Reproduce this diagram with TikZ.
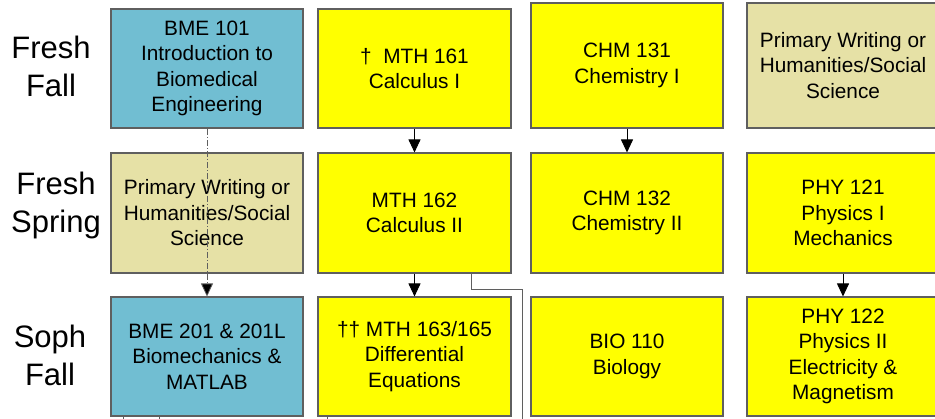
\documentclass[tikz,border=0pt]{standalone}
\usepackage{fontspec}
\setmainfont{Liberation Sans}
\usetikzlibrary{arrows.meta,calc}
\definecolor{bmeblue}{RGB}{113,190,210}
\definecolor{khaki}{RGB}{230,225,166}
\definecolor{ylw}{RGB}{255,255,0}
\definecolor{edge}{RGB}{95,95,95}
\tikzset{
  course/.style={draw=edge, line width=1.1pt, rectangle, align=center, inner sep=0pt,
    minimum width=192pt, font=\fontsize{20.8}{25.5}\selectfont},
  bme/.style={course, fill=bmeblue},
  gen/.style={course, fill=khaki},
  sci/.style={course, fill=ylw},
  rowlab/.style={align=center, font=\fontsize{31}{38}\selectfont},
  arr/.style={draw=black, line width=0.9pt, -{Triangle[width=12pt,length=13pt,fill=black]}},
  conn/.style={draw=edge, line width=1pt},
}
\begin{document}
\begin{tikzpicture}[x=1pt,y=-1pt]
\useasboundingbox (0,0) rectangle (935,418);
\clip (0,0) rectangle (935,418);
% row labels
\node[rowlab] (l1) at (51,66) {Fresh\\Fall};
\node[rowlab] (l2) at (56,205) {Fresh\\Spring};
\node[rowlab] (l3) at (50,355) {Soph\\Fall};
% row 1
\node[bme, minimum height=119pt] (b101) at (207,68.5) {BME 101\\Introduction to\\Biomedical\\Engineering};
\node[sci, minimum height=119pt, minimum width=193pt] (m161) at (414.5,68.5) {†~~MTH 161\\Calculus I};
\node[sci, minimum height=125pt] (c131) at (627,65.5) {CHM 131\\Chemistry I};
\node[gen, minimum height=125pt] (g1) at (843,65.5) {Primary Writing or\\Humanities/Social\\Science};
% row 2
\node[gen, minimum height=120pt] (g2) at (207,213) {Primary Writing or\\Humanities/Social\\Science};
\node[sci, minimum height=120pt, minimum width=193pt] (m162) at (414.5,213) {MTH 162\\Calculus II};
\node[sci, minimum height=120pt] (c132) at (627,213) {CHM 132\\Chemistry II};
\node[sci, minimum height=120pt] (p121) at (843,213) {PHY 121\\Physics I\\Mechanics};
% row 3
\node[bme, minimum height=119pt] (b201) at (207,356.5) {BME 201 \& 201L\\Biomechanics \&\\MATLAB};
\node[sci, minimum height=119pt, minimum width=193pt] (m163) at (414.5,356.5) {†† MTH 163/165\\Differential\\Equations};
\node[sci, minimum height=119pt] (bio) at (627,356.5) {BIO 110\\Biology};
\node[sci, minimum height=119pt] (p122) at (843,356.5) {PHY 122\\Physics II\\Electricity \&\\Magnetism};
% connectors
\draw[arr] (m161.south) -- (m162.north);
\draw[arr] (c131.south) -- (c132.north);
\draw[arr] (p121.south) -- (p122.north);
\draw[arr] (m162.south) -- (m163.north);
\draw[arr, draw=edge, dash pattern=on 6pt off 2pt on 1.2pt off 2pt, line width=0.8pt] (b101.south) -- (b201.north);
\coordinate (cend) at (522,425);
\draw[conn] ([xshift=-40pt]m162.south east) -- ++(0,15.7) -| (cend);
\coordinate (s1) at (123,425);
\coordinate (s2) at (159,425);
\coordinate (s3) at (327,425);
\draw[conn] (b201.south -| s1) -- (s1);
\draw[conn] (b201.south -| s2) -- (s2);
\draw[conn] (m163.south -| s3) -- (s3);
\end{tikzpicture}
\end{document}
